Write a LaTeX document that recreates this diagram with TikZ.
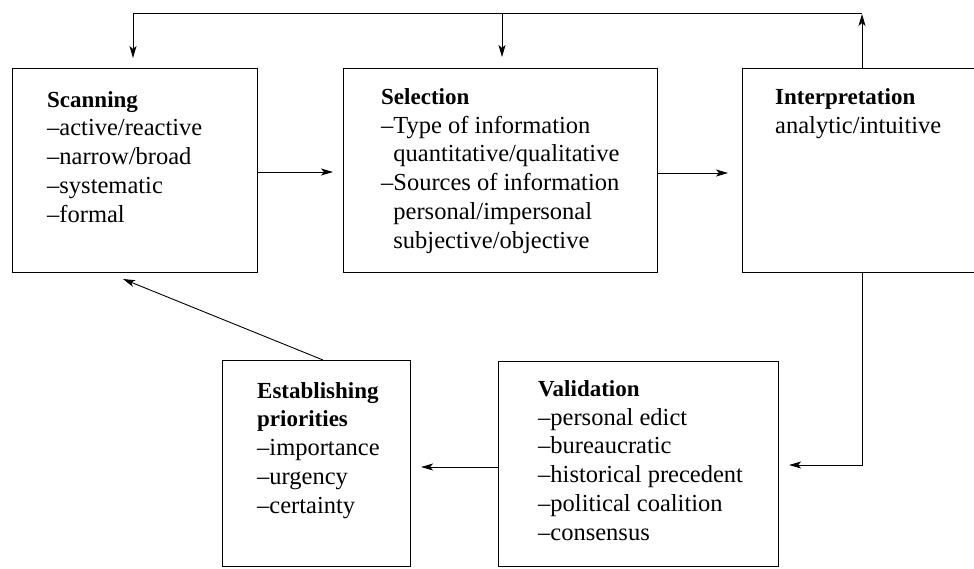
\documentclass[tikz,border=0pt]{standalone}
\usepackage{fontspec}
\setmainfont{Liberation Serif}
\usetikzlibrary{arrows.meta}
\begin{document}
\begin{tikzpicture}[x=1pt,y=-1pt,
  box/.style={draw, line width=1.1pt, inner sep=0pt, anchor=north west},
  txt/.style={anchor=base west, inner sep=0pt, align=left,
    font=\fontsize{24.5}{28.7}\selectfont},
  conn/.style={line width=0.9pt, -{Stealth[length=12pt,width=7pt,inset=3pt]}},
  plain/.style={line width=0.9pt}]
\newcommand{\hdtxt}[1]{{\bfseries\fontsize{23}{28.7}\selectfont #1}}
\useasboundingbox (0,0) rectangle (974,568);
\clip (0,0) rectangle (974,568);
% boxes
\node[box, minimum width=245pt, minimum height=204pt] (scan) at (12,68) {};
\node[box, minimum width=314pt, minimum height=204pt] (sel) at (343,68) {};
\node[box, minimum width=280pt, minimum height=204pt] (interp) at (742,68) {};
\node[box, minimum width=188pt, minimum height=206pt] (prio) at (222,360) {};
\node[box, minimum width=280pt, minimum height=205pt] (valid) at (498,361) {};
% texts (anchored at the baseline of the last line)
\node[txt] (scant) at (47,222) {\hdtxt{Scanning}\\
  \textendash active/reactive\\ \textendash narrow/broad\\ \textendash systematic\\ \textendash formal};
\node[txt] (selt) at (381,248) {\hdtxt{Selection}\\
  \textendash Type of information\\ \phantom{\textendash}quantitative/qualitative\\
  \textendash Sources of information\\ \phantom{\textendash}personal/impersonal\\
  \phantom{\textendash}subjective/objective};
\node[txt] (interpt) at (775,133) {\hdtxt{Interpretation}\\
  analytic/intuitive};
\node[txt] (priot) at (257,513) {\hdtxt{Establishing}\\
  \hdtxt{priorities}\\
  \textendash importance\\ \textendash urgency\\ \textendash certainty};
\node[txt] (validt) at (538,540) {\hdtxt{Validation}\\
  \textendash personal edict\\ \textendash bureaucratic\\ \textendash historical precedent\\
  \textendash political coalition\\ \textendash consensus};
% connector points
\coordinate (topR) at (862,13);
\coordinate (topL) at (133,13);
\coordinate (topM) at (502,13);
\coordinate (iup) at (862,68);
\coordinate (idn) at (862,272);
% connectors
\draw[conn] (iup) -- (862,14);
\draw[plain] (topR) -- (topL);
\draw[conn] (topL) -- ([yshift=10pt]scan.north -| topL);
\draw[conn] (topM) -- ([yshift=11pt]sel.north -| topM);
\draw[conn] (scan.east |- 0,172) -- (333,172);
\draw[conn] (sel.east |- 0,173) -- (728,173);
\draw[conn] (idn) |- ([xshift=10pt]valid.east |- 0,465);
\draw[conn] (valid.west |- 0,467) -- ([xshift=10pt]prio.east |- 0,467);
\draw[conn] (prio.north -| 323,0) -- (123,279);
\end{tikzpicture}
\end{document}
